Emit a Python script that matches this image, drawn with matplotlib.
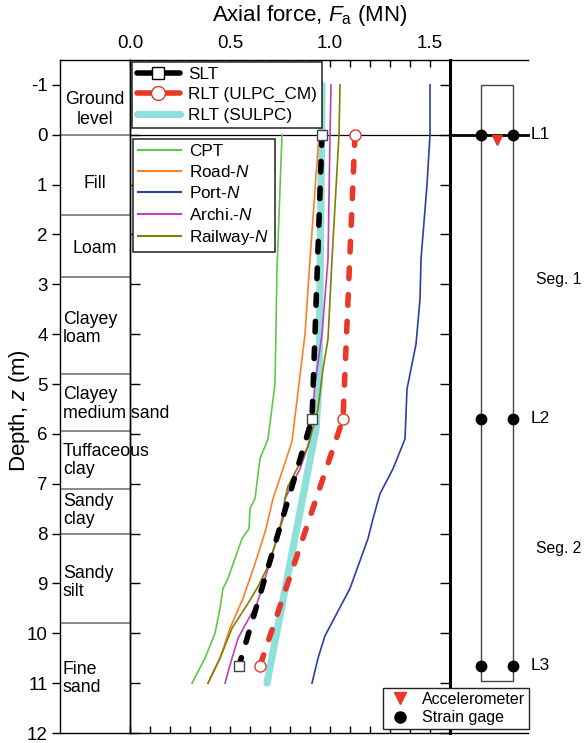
import matplotlib
matplotlib.use("Agg")
import matplotlib.pyplot as plt
from matplotlib.lines import Line2D
from matplotlib.patches import Rectangle
from matplotlib.ticker import MultipleLocator, FixedLocator

plt.rcParams['font.family'] = ['Liberation Sans', 'DejaVu Sans']
plt.rcParams['mathtext.fontset'] = 'custom'
plt.rcParams['mathtext.rm'] = 'Liberation Sans'
plt.rcParams['mathtext.it'] = 'Liberation Sans:italic'
plt.rcParams['axes.unicode_minus'] = False

# ---- soil profile ----
layer_bounds = [0, 1.6, 2.85, 4.8, 5.95, 7.1, 8.0, 9.8]
layer_names = ["Ground\nlevel", "Fill", "Loam", "Clayey\nloam", "Clayey\nmedium sand",
               "Tuffaceous\nclay", "Sandy\nclay", "Sandy\nsilt", "Fine\nsand"]
layer_label_depth = [-0.5, 0.98, 2.28, 3.88, 5.4, 6.54, 7.54, 8.98, 10.9]

# ---- measured axial force (MN) at gauge levels ----
gauge_depth = [0.0, 5.7, 10.65]
slt_force = [0.96, 0.91, 0.545]
rlt_ulpc_force = [1.125, 1.065, 0.65]

rlt_sulpc_depth = [-1.0, 0.0, 5.0, 5.9, 11.0]
rlt_sulpc_force = [0.96, 0.958, 0.945, 0.93, 0.685]

# ---- design methods ----
cpt_depth = [0, 2.7, 5.0, 6.1, 6.5, 7.3, 7.5, 7.9, 8.1, 8.9, 9.1, 9.5, 10.0, 10.5, 11.0]
cpt_force = [0.76, 0.735, 0.725, 0.69, 0.65, 0.625, 0.60, 0.595, 0.56, 0.49, 0.465, 0.45, 0.425, 0.375, 0.31]

road_depth = [0, 2.5, 4.0, 5.0, 6.15, 6.7, 7.3, 7.9, 8.1, 8.7, 9.3, 9.9, 10.5, 11.0]
road_force = [0.945, 0.90, 0.875, 0.845, 0.81, 0.765, 0.715, 0.68, 0.665, 0.617, 0.565, 0.50, 0.45, 0.39]

port_depth = [-1, 0, 1, 2.5, 3.3, 4.2, 5.1, 6.1, 6.7, 7.2, 7.7, 8.1, 9.1, 10.05, 10.5, 11.0]
port_force = [1.5, 1.5, 1.485, 1.455, 1.45, 1.43, 1.385, 1.375, 1.315, 1.25, 1.215, 1.19, 1.10, 0.975, 0.94, 0.91]

archi_depth = [-1, 0, 2.5, 4.0, 5.0, 6.1, 6.3, 6.7, 7.3, 7.7, 8.1, 9.1, 9.4, 10.1, 10.5, 11.0]
archi_force = [1.005, 1.0, 0.99, 0.96, 0.925, 0.90, 0.885, 0.85, 0.775, 0.76, 0.735, 0.66, 0.635, 0.54, 0.51, 0.475]

rail_depth = [-1, 0, 2.5, 3.3, 4.1, 4.7, 5.5, 6.25, 6.7, 7.05, 7.3, 7.7, 8.1, 8.7, 9.1, 9.4, 9.9, 10.5, 11.0]
rail_force = [1.05, 1.045, 1.01, 1.0, 0.99, 0.965, 0.94, 0.89, 0.835, 0.79, 0.775, 0.765, 0.735, 0.685, 0.635, 0.59, 0.51, 0.45, 0.39]

# ---- instrumentation ----
gauge_labels = ["L1", "L2", "L3"]
segment_labels = ["Seg. 1", "Seg. 2"]
segment_label_depth = [2.9, 8.3]

W, H = 587, 743
fig = plt.figure(figsize=(W / 100, H / 100), dpi=100)

top_px, bot_px = 60, 733
b = 1 - bot_px / H
h = (bot_px - top_px) / H
ylim = (12, -1.5)

# soil column
ax_s = fig.add_axes([60 / W, b, 70 / W, h])
ax_s.set_xlim(0, 1)
ax_s.set_ylim(*ylim)
ax_s.set_xticks([])
ax_s.yaxis.set_major_locator(FixedLocator(range(-1, 13)))
ax_s.tick_params(axis='y', direction='out', length=6, width=1, labelsize=13.5, pad=3)
for sp in ax_s.spines.values():
    sp.set_linewidth(1)
for d in layer_bounds:
    ax_s.axhline(d, color='#777777', lw=1.2)
for i, (name, d) in enumerate(zip(layer_names, layer_label_depth)):
    if i < 3:
        ax_s.text(0.5, d, name, ha='center', va='center', fontsize=12.8, linespacing=1.25)
    else:
        ax_s.text(0.04, d, name, ha='left', va='center', fontsize=12.8, linespacing=1.1,
                  clip_on=False, zorder=5)
fig.text(20 / W, 1 - 411 / H, "Depth, $z$ (m)", rotation=90, ha='center', va='center', fontsize=16)

# main force-depth axes
ax = fig.add_axes([130 / W, b, 320 / W, h])
ax.set_xlim(0, 1.6)
ax.set_ylim(*ylim)
ax.patch.set_alpha(0)
ax.xaxis.set_major_locator(FixedLocator([0, 0.5, 1.0, 1.5]))
ax.xaxis.set_minor_locator(MultipleLocator(0.1))
ax.set_xticklabels(["0.0", "0.5", "1.0", "1.5"])
ax.xaxis.set_ticks_position('both')
ax.tick_params(axis='x', which='both', direction='in', top=True, bottom=True,
               labeltop=True, labelbottom=False, labelsize=13.5, length=5, width=1, pad=6)
ax.tick_params(axis='x', which='minor', length=5)
ax.yaxis.set_major_locator(FixedLocator(range(-1, 13)))
ax.tick_params(axis='y', direction='in', left=True, right=True, labelleft=False,
               length=7, width=1)
for sp in ['left', 'top', 'bottom']:
    ax.spines[sp].set_linewidth(1)
ax.spines['right'].set_linewidth(2.2)
fig.text(310 / W, 1 - 16 / H, "Axial force, $F_\\mathrm{a}$ (MN)", ha='center', va='center', fontsize=16)

ax.axhline(0, color='black', lw=0.9, zorder=1)

thin = 1.2
ax.plot(rlt_sulpc_force, rlt_sulpc_depth, color='#8fe0da', lw=5.2, solid_capstyle='round', zorder=2)
ax.plot(cpt_force, cpt_depth, color='#5fc84a', lw=thin, zorder=3)
ax.plot(road_force, road_depth, color='#ff7f27', lw=thin, zorder=3)
ax.plot(port_force, port_depth, color='#2b3fa5', lw=thin, zorder=3)
ax.plot(archi_force, archi_depth, color='#c040c0', lw=thin, zorder=3)
ax.plot(rail_force, rail_depth, color='#808000', lw=thin, zorder=3)

dash = (0, (1.9, 2.9))
ax.plot(slt_force, gauge_depth, color='black', lw=4, linestyle=dash,
        dash_capstyle='round', zorder=4)
ax.plot(slt_force, gauge_depth, linestyle='none', marker='s', ms=7, mfc='white',
        mec='#444444', mew=1, zorder=5)
ax.plot(rlt_ulpc_force, gauge_depth, color='#e8382a', lw=4, linestyle=dash,
        dash_capstyle='round', zorder=4)
ax.plot(rlt_ulpc_force, gauge_depth, linestyle='none', marker='o', ms=8, mfc='white',
        mec='#e8382a', mew=1, zorder=5)

leg_kw = dict(fontsize=12.3, frameon=True, fancybox=False, framealpha=1, edgecolor='#222222',
              borderaxespad=0, bbox_transform=fig.transFigure, loc='upper left',
              handlelength=2.5, handletextpad=0.5, labelspacing=0.3, borderpad=0.3)
h1 = [Line2D([], [], color='black', lw=4, solid_capstyle='round', marker='s', ms=8,
             mfc='white', mec='black', mew=1),
      Line2D([], [], color='#e8382a', lw=4, solid_capstyle='round', marker='o', ms=10,
             mfc='white', mec='#e8382a', mew=1),
      Line2D([], [], color='#8fe0da', lw=5.2, solid_capstyle='round')]
leg1 = ax.legend(h1, ["SLT", "RLT (ULPC_CM)", "RLT (SULPC)"], numpoints=1,
                 bbox_to_anchor=(132 / W, 1 - 62 / H), **leg_kw)
leg1.get_frame().set_linewidth(1.1)
leg1.set_zorder(10)
ax.add_artist(leg1)

h2 = [Line2D([], [], color=c, lw=1.5) for c in ['#5fc84a', '#ff7f27', '#2b3fa5', '#c040c0', '#808000']]
leg2 = ax.legend(h2, ["CPT", "Road-$N$", "Port-$N$", "Archi.-$N$", "Railway-$N$"],
                 bbox_to_anchor=(133 / W, 1 - 139 / H), **leg_kw)
leg2.get_frame().set_linewidth(1.1)
leg2.set_zorder(10)

# instrumented pile schematic
ax_r = fig.add_axes([450 / W, b, 78 / W, h])
ax_r.set_xlim(0, 1)
ax_r.set_ylim(*ylim)
ax_r.set_xticks([])
ax_r.set_yticks([])
ax_r.patch.set_alpha(0)
ax_r.spines['left'].set_visible(False)
ax_r.spines['right'].set_visible(False)
ax_r.spines['top'].set_linewidth(1)
ax_r.spines['bottom'].set_linewidth(1)

pile_left, pile_right = 0.397, 0.808
ax_r.add_patch(Rectangle((pile_left, -1), pile_right - pile_left, 11.96, fill=False,
                         edgecolor='#444444', lw=1))
ax_r.plot([0, 1], [0, 0], color='black', lw=2, zorder=3, clip_on=False)
for d, lab in zip(gauge_depth, gauge_labels):
    ax_r.plot([pile_left, pile_right], [d, d], linestyle='none', marker='o', ms=7.5,
              color='black', zorder=4)
    ax_r.text(1.03, d, lab, ha='left', va='center', fontsize=12.5, clip_on=False)
ax_r.plot([(pile_left + pile_right) / 2], [0.1], linestyle='none', marker='v', ms=7,
          color='#e8382a', zorder=5)
for lab, d in zip(segment_labels, segment_label_depth):
    ax_r.text(1.105, d, lab, ha='left', va='center', fontsize=11.3, clip_on=False)

h3 = [Line2D([], [], linestyle='none', marker='v', ms=8, color='#e8382a'),
      Line2D([], [], linestyle='none', marker='o', ms=8, color='black')]
leg3 = fig.legend(h3, ["Accelerometer", "Strain gage"], loc='upper left',
                  bbox_to_anchor=(383 / W, 1 - 688 / H), fontsize=11.5, frameon=True,
                  fancybox=False, framealpha=1, edgecolor='#222222', borderaxespad=0,
                  handlelength=1.6, handletextpad=0.6, labelspacing=0.2, borderpad=0.25)
leg3.get_frame().set_linewidth(1)
leg3.set_zorder(20)

fig.savefig("out.png", dpi=100)
